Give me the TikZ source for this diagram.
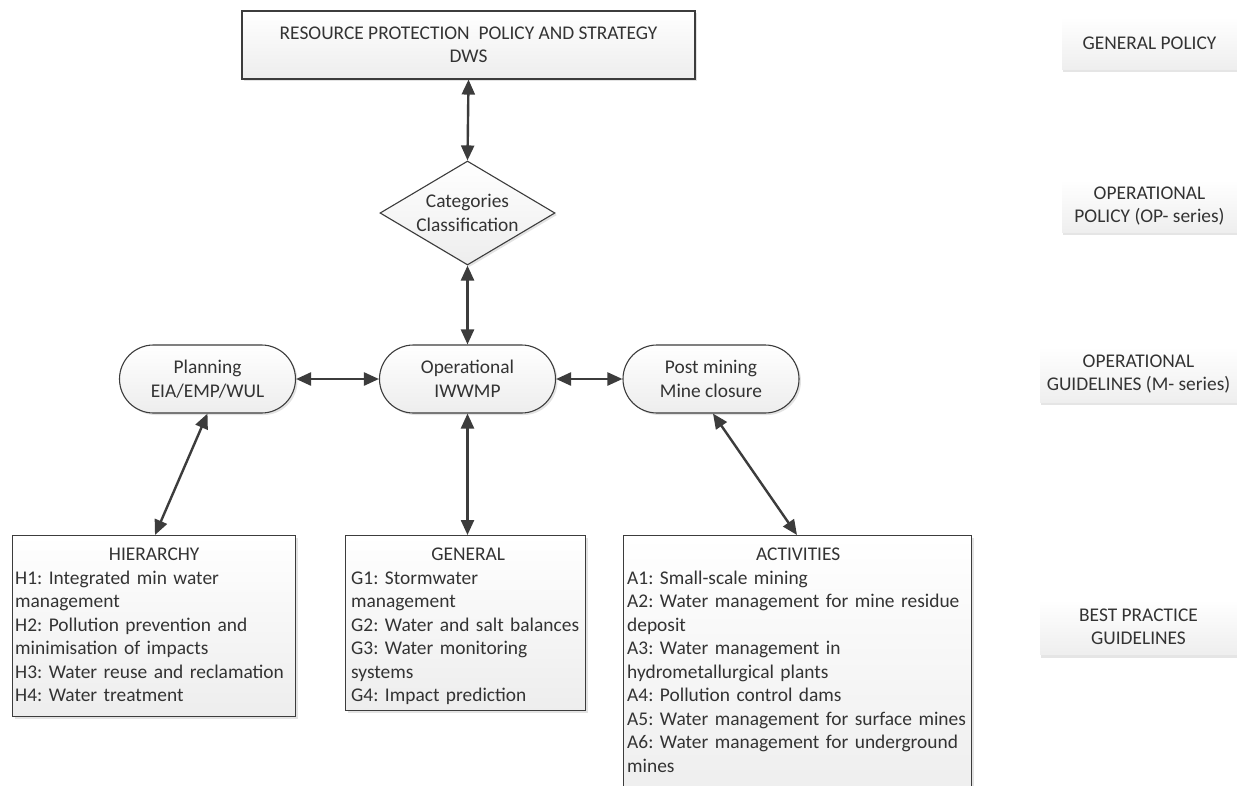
\documentclass[tikz,border=0pt]{standalone}
\usepackage{fontspec}
\setmainfont{Carlito}
\usetikzlibrary{shapes.geometric,shapes.misc,arrows.meta,shadows}
\definecolor{ink}{HTML}{3C3C3C}
\definecolor{txt}{HTML}{333333}
\frenchspacing
\begin{document}
\begin{tikzpicture}[x=1pt,y=-1pt,
  font=\fontsize{19.4}{23.5}\selectfont, text=txt,
  box/.style={draw=ink, line width=1.1pt, top color=white, bottom color=gray!14, inner sep=0pt,
     drop shadow={opacity=0.22,shadow xshift=2pt,shadow yshift=-2pt}},
  pill/.style={box, rounded rectangle, minimum width=176, minimum height=68, align=center},
  lvl/.style={top color=white, bottom color=gray!13, inner sep=0pt, align=center,
     font=\fontsize{19.4}{23}\selectfont,
     drop shadow={opacity=0.2, shadow xshift=1pt, shadow yshift=-3pt}},
  link/.style={draw=ink, line width=2.4pt, {Triangle[length=15pt,width=13pt]}-{Triangle[length=15pt,width=13pt]}},
  list/.style={inner sep=0pt, align=left, anchor=north west}
]
\useasboundingbox (0,0) rectangle (1237,785);
\fill[white] (0,0) rectangle (1237,785);
\clip (0,0) rectangle (1237,785);

% main nodes
\node[box, minimum width=453, minimum height=68, align=center] (rp) at (468.5,45)
  {RESOURCE PROTECTION\ \ POLICY AND STRATEGY\\DWS};
\node[box, diamond, aspect=1.68, minimum width=175, minimum height=104, align=center] (cat) at (467.5,213)
  {Categories\\Classification};
\node[pill] (plan) at (207.5,379) {Planning\\EIA/EMP/WUL};
\node[pill] (oper) at (467.5,379) {Operational\\IWWMP};
\node[pill] (post) at (711,379) {Post mining\\Mine closure};

% bottom boxes
\node[box, minimum width=283, minimum height=181, anchor=north west] (hier) at (12,535) {};
\node[list, text width=300] (hiert) at (15,548)
  {\hfill HIERARCHY\hfill\hbox to 22pt{}\null\\
   H1: Integrated min water\\
   management\\
   H2: Pollution prevention and\\
   minimisation of impacts\\
   H3: Water reuse and reclamation\\
   H4: Water treatment};

\node[box, minimum width=240, minimum height=175, anchor=north west] (gen) at (345,535) {};
\node[list, text width=234] (gent) at (351,548)
  {\hfill GENERAL\hfill\null\\
   G1: Stormwater\\
   management\\
   G2: Water and salt balances\\
   G3: Water monitoring\\
   systems\\
   G4: Impact prediction};

\node[box, minimum width=348, minimum height=270, anchor=north west] (act) at (623,535) {};
\node[list, text width=360] (actt) at (627,548)
  {\hfill ACTIVITIES\hfill\hbox to 18pt{}\null\\
   A1: Small-scale mining\\
   A2: Water management for mine residue\\
   deposit\\
   A3: Water management in\\
   hydrometallurgical plants\\
   A4: Pollution control dams\\
   A5: Water management for surface mines\\
   A6: Water management for underground\\
   mines};

% connectors
\draw[link] (rp.south) -- (cat.north);
\draw[link] (cat.south) -- (oper.north);
\draw[link] (plan.east) -- (oper.west);
\draw[link] (oper.east) -- (post.west);
\draw[link] (plan.south) -- ([xshift=143pt]hier.north west);
\draw[link] (oper.south) -- (oper.south |- gen.north);
\draw[link] ([xshift=2pt]post.south) -- ([xshift=174pt]act.north west);

% level labels
\node[lvl, minimum width=175, minimum height=52] (l1) at (1149.5,43) {GENERAL POLICY};
\node[lvl, minimum width=175, minimum height=52] (l2) at (1149.5,206) {OPERATIONAL\\POLICY (OP- series)};
\node[lvl, minimum width=197, minimum height=55] (l3) at (1138.5,374.5) {OPERATIONAL\\GUIDELINES (M- series)};
\node[lvl, minimum width=197, minimum height=55] (l4) at (1138.5,627) {BEST PRACTICE\\GUIDELINES};
\end{tikzpicture}
\end{document}
